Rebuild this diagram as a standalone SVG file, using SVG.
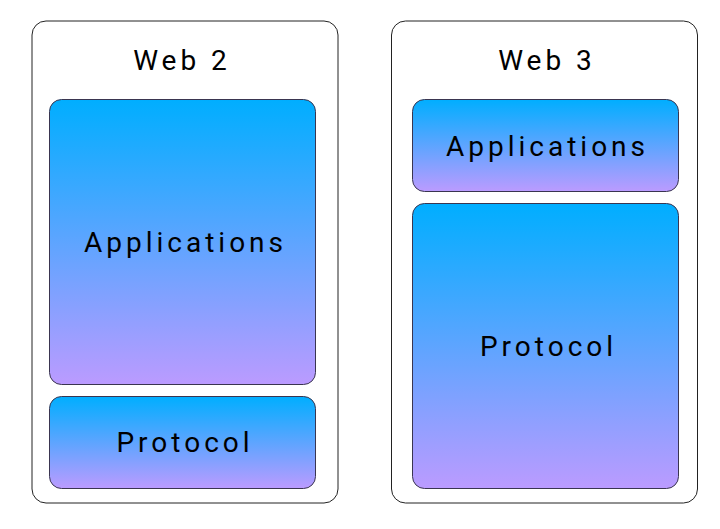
<svg xmlns="http://www.w3.org/2000/svg" width="720" height="529" viewBox="0 0 720 529">
<defs>
<linearGradient id="g" x1="0" y1="0" x2="0" y2="1">
<stop offset="0" stop-color="#00AEFF"/>
<stop offset="1" stop-color="#BB9BFF"/>
</linearGradient>
<style>
.outer{fill:#fff;stroke:#222;stroke-width:1}
.box{fill:url(#g);stroke:#3a3550;stroke-width:1}
.t{font-family:Roboto,"Liberation Sans",sans-serif;font-size:28px;fill:#000;text-anchor:middle;letter-spacing:4px}
</style>
</defs>
<rect width="720" height="529" fill="#fff"/>
<g id="web2">
<rect class="outer" x="32" y="21" width="306" height="482" rx="14"/>
<text class="t" x="182" y="70">Web 2</text>
</g>
<g id="web2-apps">
<rect class="box" x="49.5" y="99.5" width="266" height="285" rx="12"/>
<text class="t" x="185.5" y="252">Applications</text>
</g>
<g id="web2-protocol">
<rect class="box" x="49.5" y="396.5" width="266" height="92" rx="12"/>
<text class="t" x="185" y="452">Protocol</text>
</g>
<g id="web3">
<rect class="outer" x="391.5" y="21" width="306" height="482" rx="14"/>
<text class="t" x="547" y="70">Web 3</text>
</g>
<g id="web3-apps">
<rect class="box" x="412.5" y="99.5" width="266" height="92" rx="12"/>
<text class="t" x="547.5" y="156">Applications</text>
</g>
<g id="web3-protocol">
<rect class="box" x="412.5" y="203.5" width="266" height="285" rx="12"/>
<text class="t" x="548.5" y="356">Protocol</text>
</g>
<g id="connectors"/>
</svg>
